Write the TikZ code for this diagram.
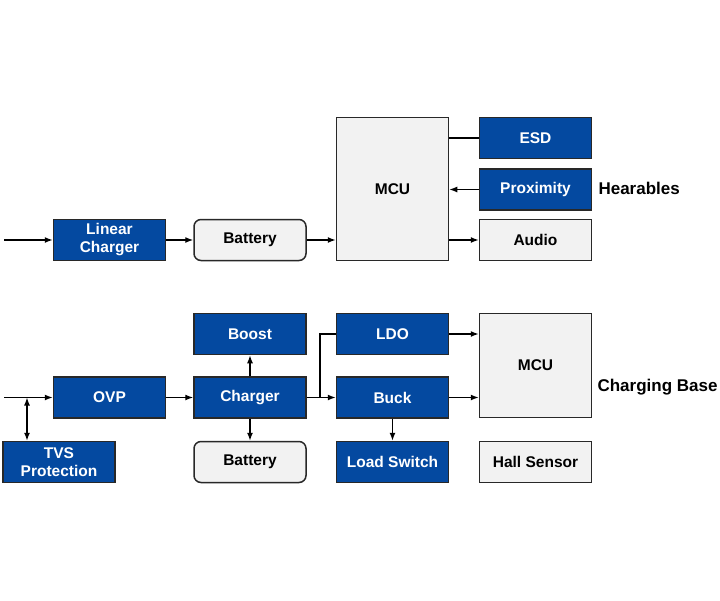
\documentclass[tikz,border=0pt]{standalone}
\usepackage{fontspec}
\setmainfont{Liberation Sans}
\usetikzlibrary{arrows.meta}
\definecolor{blockblue}{RGB}{4,73,160}
\definecolor{blockgray}{RGB}{242,242,242}
\definecolor{edgegray}{RGB}{40,40,40}
\tikzset{
  blk/.style={draw=edgegray,line width=1.5pt,minimum width=112pt,minimum height=41pt,inner sep=0pt,
    align=center,font=\fontsize{15.5}{18}\selectfont\bfseries},
  blueblk/.style={blk,fill=blockblue,text=white},
  grayblk/.style={blk,fill=blockgray,text=black},
  cell/.style={grayblk,rounded corners=7pt},
  conn/.style={line width=1.4pt,-{Latex[length=8pt,width=6pt]}},
  tag/.style={anchor=west,font=\fontsize{17}{20}\selectfont\bfseries}
}
\begin{document}
\begin{tikzpicture}[x=1pt,y=-1pt]
\useasboundingbox[fill=white] (0,0) rectangle (720,600);
% hearables
\node[blueblk] (lc) at (109.5,240) {Linear\\Charger};
\node[cell] (bat1) at (250,240) {Battery};
\node[grayblk,minimum height=143pt] (mcu1) at (392.5,189) {MCU};
\node[blueblk] (esd) at (535.5,138) {ESD};
\node[blueblk] (prox) at (535.5,189.5) {Proximity};
\node[grayblk] (audio) at (535.5,240) {Audio};
\node[tag] (hear) at (595,188) {Hearables};
\coordinate (in1) at (4,240);
\draw[conn] (in1) -- (lc);
\draw[conn] (lc) -- (bat1);
\draw[conn] (bat1) -- (bat1 -| mcu1.west);
\draw[line width=1.4pt] (esd.west -| mcu1.east) -- (esd.west);
\draw[conn] (prox.west) -- (prox.west -| mcu1.east);
\draw[conn] (audio.west -| mcu1.east) -- (audio.west);
% charging base
\node[blueblk] (ovp) at (109.5,397.5) {OVP};
\node[blueblk] (tvs) at (59,462) {TVS\\Protection};
\node[blueblk] (boost) at (250,334) {Boost};
\node[blueblk] (chg) at (250,397.5) {Charger};
\node[cell] (bat2) at (250,462) {Battery};
\node[blueblk] (ldo) at (392.5,334) {LDO};
\node[blueblk] (buck) at (392.5,397.5) {Buck};
\node[blueblk] (ls) at (392.5,462) {Load Switch};
\node[grayblk,minimum height=104pt] (mcu2) at (535.5,365.5) {MCU};
\node[grayblk] (hall) at (535.5,462) {Hall Sensor};
\node[tag] (base) at (594,387) {Charging Base};
\coordinate (in2) at (4,397.5);
\coordinate (j1) at (27,397.5);
\coordinate (j2) at (320,397.5);
\draw[conn] (in2) -- (ovp);
\draw[line width=1.4pt,{Latex[length=8pt,width=6pt]}-{Latex[length=8pt,width=6pt]}] (j1) -- (j1 |- tvs.north);
\draw[conn] (ovp) -- (chg);
\draw[conn] (chg) -- (boost);
\draw[conn] (chg) -- (bat2);
\draw[conn] (chg) -- (buck);
\draw[line width=1.4pt] (j2) |- (ldo.west);
\draw[conn] (ldo.east) -- (ldo.east -| mcu2.west);
\draw[conn] (buck.east) -- (buck.east -| mcu2.west);
\draw[conn] (buck) -- (ls);
\end{tikzpicture}
\end{document}
